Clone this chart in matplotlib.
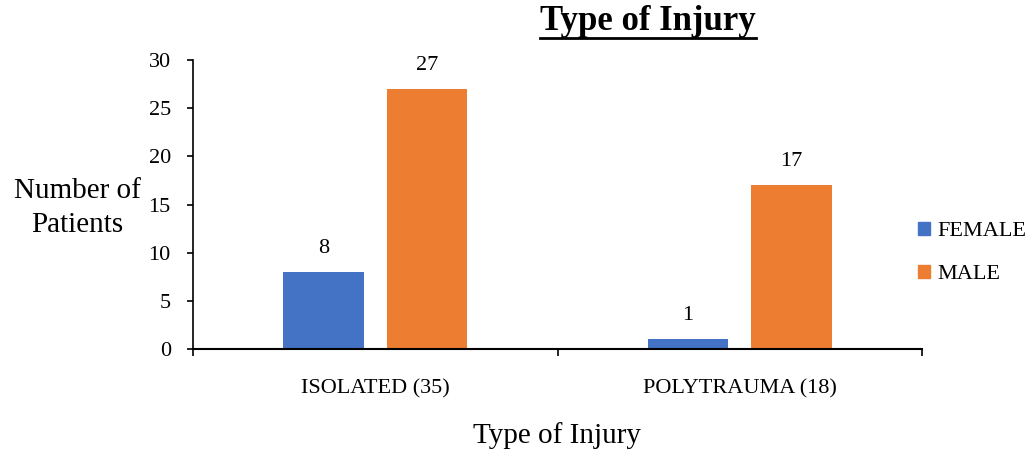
import matplotlib
matplotlib.use("Agg")
import matplotlib.pyplot as plt
from matplotlib.lines import Line2D
from matplotlib.patches import Patch
import numpy as np

categories = ["ISOLATED (35)", "POLYTRAUMA (18)"]
female = [8, 1]
male = [27, 17]
series_names = ["FEMALE", "MALE"]
colors = ["#4472C4", "#ED7D31"]
y_ticks = [0, 5, 10, 15, 20, 25, 30]

plt.rcParams['font.family'] = ['Liberation Serif', 'DejaVu Serif']

fig = plt.figure(figsize=(10.29, 4.57), dpi=100)
ax = fig.add_axes([193/1029, 1-349/457, (922-193)/1029, (349-60)/457])

x = np.arange(len(categories))
w = 0.22
off = 0.142
b1 = ax.bar(x - off, female, w, color=colors[0], label=series_names[0])
b2 = ax.bar(x + off, male, w, color=colors[1], label=series_names[1])
for bars, vals in ((b1, female), (b2, male)):
    for r, v in zip(bars, vals):
        ax.annotate(str(v), (r.get_x() + r.get_width()/2, v), xytext=(0, 10),
                    textcoords="offset points", ha="center", va="bottom", fontsize=16)

ax.set_xlim(-0.5, len(categories) - 0.5)
ax.set_ylim(0, 30)
ax.set_yticks(y_ticks)
ax.set_xticks(x)
ax.set_xticklabels(categories, fontsize=16)
ax.tick_params(axis='x', length=0, pad=22)
ax.set_xticks(np.arange(len(categories) + 1) - 0.5, minor=True)
ax.tick_params(axis='x', which='minor', length=5, width=1.2)
ax.tick_params(axis='y', labelsize=16, length=4, width=1.2, pad=12)
for s in ['top', 'right']:
    ax.spines[s].set_visible(False)
ax.spines['left'].set_linewidth(1.2)
ax.spines['bottom'].set_linewidth(1.5)

fig.text(77/1029, 1-208/457, "Number of\nPatients", ha='center', va='center', fontsize=21, linespacing=1.4)
fig.text(557/1029, 1-436/457, "Type of Injury", ha='center', va='center', fontsize=21)
title = fig.text(648/1029, 1-22/457, "Type of Injury", ha='center', va='center', fontsize=25, fontweight='bold')

handles = [Patch(color=c, label=n) for c, n in zip(colors, series_names)]
fig.legend(handles=handles, loc='center left', bbox_to_anchor=(918/1029, 1-253/457), frameon=False,
           borderaxespad=0, borderpad=0,
           fontsize=16, handlelength=0.55, handleheight=0.55, handletextpad=0.3, labelspacing=1.05)

fig.canvas.draw()
bb = title.get_window_extent()
yline = bb.y0 + 1
fig.add_artist(Line2D([bb.x0/1029, bb.x1/1029], [yline/457, yline/457], transform=fig.transFigure,
                      color='black', linewidth=2))

fig.savefig("out.png", dpi=100)
